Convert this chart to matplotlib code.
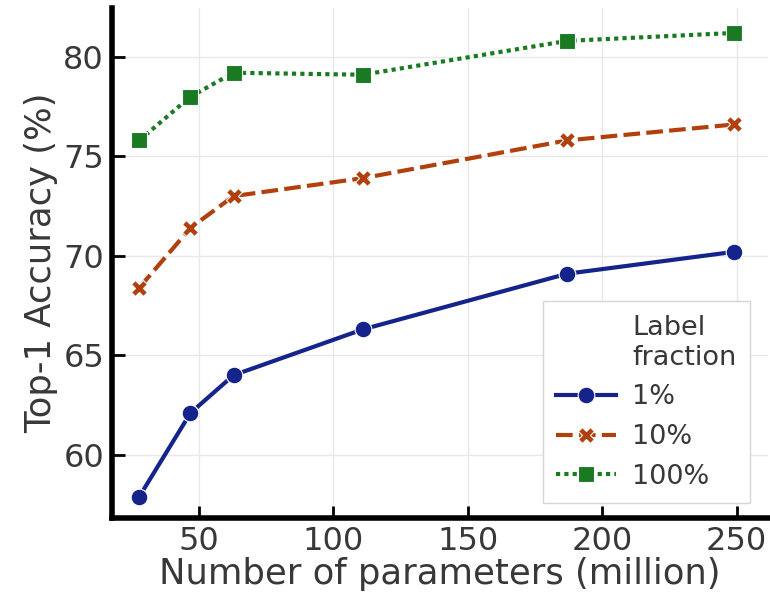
import matplotlib
matplotlib.use("Agg")
import matplotlib.pyplot as plt
from matplotlib.lines import Line2D

# Data
params = [28, 47, 63, 111, 187, 249]          # million parameters
acc_1 = [57.9, 62.1, 64.0, 66.3, 69.1, 70.2]
acc_10 = [68.4, 71.4, 73.0, 73.9, 75.8, 76.6]
acc_100 = [75.8, 78.0, 79.2, 79.1, 80.8, 81.2]
labels = ["1%", "10%", "100%"]
x_ticks = [50, 100, 150, 200, 250]
y_ticks = [60, 65, 70, 75, 80]

colors = ["#14248a", "#b1400d", "#1a7a22"]
markers = ["o", "X", "s"]
dashes = [(None, None), (4, 1.5), (1, 1)]

fig = plt.figure(figsize=(7.7, 6.05), dpi=100)
ax = fig.add_axes([0.146, 0.144, 0.851, 0.843])

handles = [Line2D([], [], linestyle="none", marker="none")]
for y, lab, c, m, d in zip([acc_1, acc_10, acc_100], labels, colors, markers, dashes):
    line, = ax.plot(params, y, color=c, marker=m, markersize=12,
                    markeredgecolor="white", markeredgewidth=0.8,
                    linewidth=3, label=lab)
    if d[0] is not None:
        line.set_dashes(d)
    handles.append(line)

ax.set_xlim(18, 261.5)
ax.set_ylim(56.83, 82.46)
ax.set_xticks(x_ticks)
ax.set_yticks(y_ticks)

ax.grid(True, color="#e8e8e8", linewidth=1)
ax.set_axisbelow(True)
for s in ["top", "right"]:
    ax.spines[s].set_visible(False)
for s in ["left", "bottom"]:
    ax.spines[s].set_linewidth(4)
    ax.spines[s].set_color("black")
ax.tick_params(direction="in", length=9, width=2, labelsize=23,
               labelcolor="#383838", pad=6)

ax.set_xlabel("Number of parameters (million)", fontsize=25.5, color="#383838", labelpad=0)
ax.set_ylabel("Top-1 Accuracy (%)", fontsize=25.5, color="#383838", labelpad=4)

leg = ax.legend(handles, ["Label\nfraction"] + labels, loc="lower right",
                bbox_to_anchor=(0.973, 0.029), borderaxespad=0,
                fontsize=19.5, handlelength=2.2,
                labelspacing=0.5, handletextpad=0.6, borderpad=0.5,
                frameon=True, fancybox=False, framealpha=1)
leg.get_frame().set_edgecolor("#d6d6d6")
leg.get_frame().set_linewidth(1)
for t in leg.get_texts():
    t.set_color("#383838")

fig.savefig("out.png", dpi=100)
